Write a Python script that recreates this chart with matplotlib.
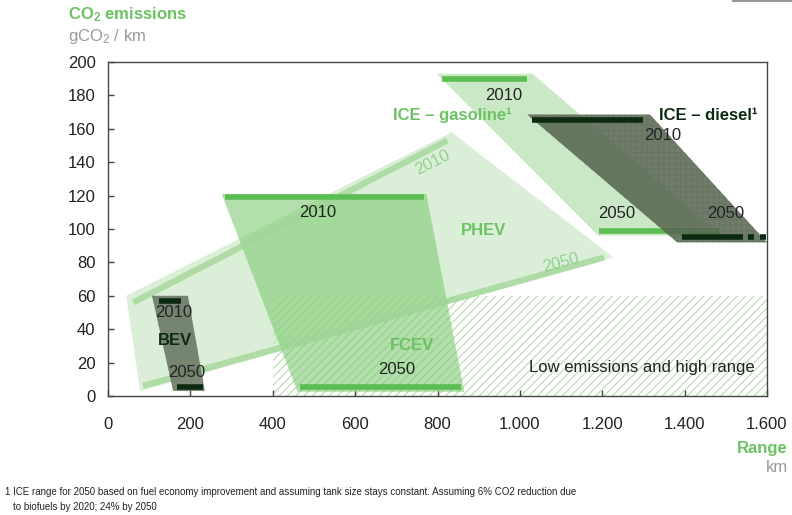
import matplotlib
matplotlib.use("Agg")
import matplotlib.pyplot as plt
from matplotlib.patches import Polygon, Rectangle
from matplotlib.lines import Line2D

plt.rcParams['font.family'] = ['Liberation Sans', 'DejaVu Sans']
plt.rcParams['mathtext.default'] = 'regular'
plt.rcParams['hatch.linewidth'] = 0.8

# ---- data (range in km, emissions in gCO2/km) ----
x_ticks = [0, 200, 400, 600, 800, 1000, 1200, 1400, 1600]
x_tick_labels = ['0', '200', '400', '600', '800', '1.000', '1.200', '1.400', '1.600']
y_ticks = list(range(0, 201, 20))

# ranges drawn as bars: [start, end] at a given emission level
gasoline_2010 = [810, 1018]; gasoline_2010_co2 = 190
gasoline_2050 = [1193, 1483]; gasoline_2050_co2 = 99
diesel_2010 = [1030, 1300]; diesel_2010_co2 = 165
diesel_2050 = [1394, 1543]; diesel_2050_co2 = 95
diesel_2050_ext = [[1553, 1568], [1582, 1598]]
fcev_2010 = [283, 768]; fcev_2010_co2 = 119
fcev_2050 = [465, 858]; fcev_2050_co2 = 5.5
bev_2010 = [124, 177]; bev_2010_co2 = 57
bev_2050 = [167, 230]; bev_2050_co2 = 5.5

# PHEV trajectories (start / end points)
phev_2010_x = [61, 824]; phev_2010_y = [56, 153]
phev_2050_x = [85, 1205]; phev_2050_y = [6, 83]

# technology envelopes
gasoline_shape_x = [798, 1030, 1490, 1190]
gasoline_shape_y = [193, 193, 96, 96]
diesel_shape_x = [1018, 1316, 1600, 1382]
diesel_shape_y = [168.5, 168.5, 92, 92]
phev_shape_x = [44, 834, 1227, 78]
phev_shape_y = [60, 158, 83, 3]
fcev_shape_x = [276, 773, 865, 460]
fcev_shape_y = [121, 121, 2.5, 2.5]
bev_shape_x = [107, 194, 235, 158]
bev_shape_y = [60, 60, 3, 3]

# target zone
zone_x = [400, 1600]
zone_y = [0, 60]

# ---- colours ----
GREEN = '#5cbd52'
LABEL_GREEN = '#6cc162'
DARK = '#0c2a10'
TEXT = '#222222'

fig = plt.figure(figsize=(7.92, 5.15), dpi=100)
ax = fig.add_axes([0.1364, 0.2311, 0.9684 - 0.1364, 0.8796 - 0.2311])
ax.set_xlim(0, 1600)
ax.set_ylim(0, 200)

# hatched target zone
ax.add_patch(Rectangle((zone_x[0], zone_y[0]), zone_x[1] - zone_x[0], zone_y[1] - zone_y[0],
                       facecolor='white', edgecolor='#b3dcab', hatch='////', linewidth=0, zorder=1))

def envelope(xs, ys, face, alpha, z, hatch=None, hcol=None):
    p = Polygon(list(zip(xs, ys)), closed=True, facecolor=face, alpha=alpha,
                edgecolor=hcol if hcol else 'none', linewidth=0, hatch=hatch, zorder=z,
                joinstyle='round')
    ax.add_patch(p)

envelope(phev_shape_x, phev_shape_y, '#bfe3b8', 0.55, 2)
envelope(fcev_shape_x, fcev_shape_y, '#7fcb73', 0.6, 3)
envelope(gasoline_shape_x, gasoline_shape_y, '#a9daa0', 0.6, 3)
envelope(diesel_shape_x, diesel_shape_y, '#4f5f49', 0.82, 4, hatch='+++', hcol='#66755f')
envelope(bev_shape_x, bev_shape_y, '#5f6e58', 0.82, 4, hatch='+++', hcol='#76846f')

# PHEV trajectories
ax.plot(phev_2010_x, phev_2010_y, color='#9fd596', lw=4.5, alpha=0.75, solid_capstyle='butt', zorder=3)
ax.plot(phev_2050_x, phev_2050_y, color='#9fd596', lw=4.5, alpha=0.75, solid_capstyle='butt', zorder=3)

# range bars
def bar(rng, y, color, z=6):
    ax.plot(rng, [y, y], color=color, linewidth=4, solid_capstyle='butt', zorder=z)

bar(gasoline_2010, gasoline_2010_co2, GREEN)
bar(gasoline_2050, gasoline_2050_co2, GREEN, z=3.5)
bar(fcev_2010, fcev_2010_co2, GREEN)
bar(fcev_2050, fcev_2050_co2, GREEN)
bar(diesel_2010, diesel_2010_co2, DARK)
bar(diesel_2050, diesel_2050_co2, DARK)
for seg in diesel_2050_ext:
    bar(seg, diesel_2050_co2, DARK)
bar(bev_2010, bev_2010_co2, DARK)
bar(bev_2050, bev_2050_co2, DARK)

# labels
fs = 12
def lab(x, y, s, color=TEXT, weight='normal', ha='center', rot=0, z=8):
    ax.text(x, y, s, color=color, fontsize=fs, fontweight=weight, ha=ha, va='center',
            rotation=rot, rotation_mode='anchor', zorder=z)

lab(961, 180, '2010')
lab(1346, 156, '2010')
lab(1236, 109, '2050')
lab(1500, 109, '2050')
lab(980, 168, 'ICE – gasoline¹', color=LABEL_GREEN, weight='bold', ha='right')
lab(1339, 168, 'ICE – diesel¹', color=DARK, weight='bold', ha='left')
lab(912, 99, 'PHEV', color=LABEL_GREEN, weight='bold')
lab(788, 140, '2010', color='#92d08a', rot=27)
lab(1100, 80, '2050', color='#92d08a', rot=15)
lab(510, 110, '2010')
lab(737, 30, 'FCEV', color=LABEL_GREEN, weight='bold')
lab(700, 16, '2050')
lab(160, 50, '2010')
lab(163, 33, 'BEV', color=DARK, weight='bold')
lab(190, 14, '2050')
lab(1297, 17, 'Low emissions and high range')

# axes styling
ax.set_xticks(x_ticks)
ax.set_xticklabels(x_tick_labels)
ax.set_yticks(y_ticks)
for s in ax.spines.values():
    s.set_color('#444444')
    s.set_linewidth(1.0)
    s.set_zorder(10)
ax.tick_params(direction='in', length=4, width=1, color='#444444', labelsize=12,
               labelcolor=TEXT)
ax.tick_params(axis='x', pad=15)
ax.tick_params(axis='y', pad=9)

# axis titles
fig.text(68 / 792, 1 - 15 / 515, 'CO$_2$ emissions', color=LABEL_GREEN, fontsize=12,
         fontweight='bold', ha='left', va='center')
fig.text(68 / 792, 1 - 36 / 515, 'gCO$_2$ / km', color='#9a9a9a', fontsize=12,
         ha='left', va='center')
fig.text(788 / 792, 1 - 449 / 515, 'Range', color=LABEL_GREEN, fontsize=12,
         fontweight='bold', ha='right', va='center')
fig.text(788 / 792, 1 - 468 / 515, 'km', color='#9a9a9a', fontsize=12,
         ha='right', va='center')

# footnote
fig.text(5 / 792, 1 - 492 / 515,
         '1 ICE range for 2050 based on fuel economy improvement and assuming tank size stays constant. '
         'Assuming 6% CO2 reduction due', fontsize=7, color=TEXT, ha='left', va='center')
fig.text(13 / 792, 1 - 507 / 515, 'to biofuels by 2020; 24% by 2050', fontsize=7,
         color=TEXT, ha='left', va='center')

# short rule at the top-right corner
fig.add_artist(Line2D([733 / 792, 1.0], [0.999, 0.999], color='#999999', lw=1.5))

fig.savefig('out.png', dpi=100)
